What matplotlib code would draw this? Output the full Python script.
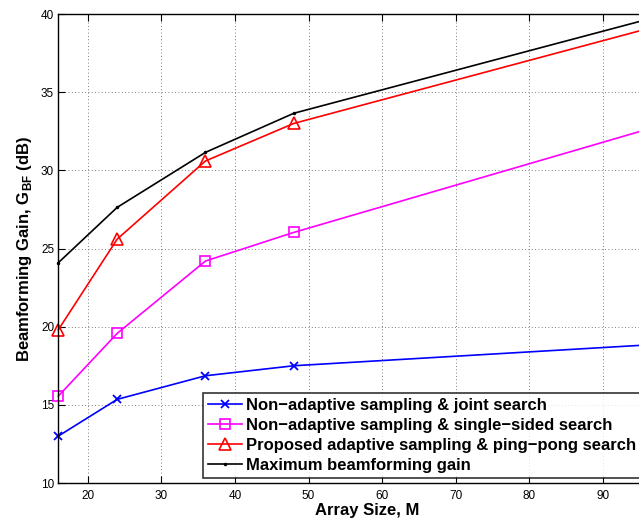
import matplotlib
matplotlib.use("Agg")
import matplotlib.pyplot as plt

plt.rcParams['font.family'] = ['Liberation Sans', 'DejaVu Sans']
plt.rcParams['mathtext.fontset'] = 'custom'
plt.rcParams['mathtext.rm'] = 'Liberation Sans'
plt.rcParams['mathtext.bf'] = 'Liberation Sans:bold'

M = [16, 24, 36, 48, 96]
joint = [13.0, 15.35, 16.86, 17.5, 18.83]
single = [15.56, 19.57, 24.2, 26.03, 32.62]
pingpong = [19.8, 25.6, 30.6, 33.0, 39.05]
maximum = [24.09, 27.63, 31.15, 33.65, 39.65]

labels = ["Non\u2212adaptive sampling & joint search",
          "Non\u2212adaptive sampling & single\u2212sided search",
          "Proposed adaptive sampling & ping\u2212pong search",
          "Maximum beamforming gain"]
xticks = [20, 30, 40, 50, 60, 70, 80, 90]
yticks = [10, 15, 20, 25, 30, 35, 40]

W, H = 639, 519
fig = plt.figure(figsize=(W/100, H/100), dpi=100)
left, right, top, bottom = 58.3, 676.5, 14, 483
ax = fig.add_axes([left/W, 1 - bottom/H, (right-left)/W, (bottom-top)/H])

lw = 1.2
l1, = ax.plot(M, joint, color='#0000ff', marker='x', markersize=6, mew=1.3, lw=lw, clip_on=False)
l2, = ax.plot(M, single, color='#ff00ff', marker='s', markersize=7, mfc='none', mew=1.2, lw=lw, clip_on=False)
l3, = ax.plot(M, pingpong, color='#ff0000', marker='^', markersize=8.5, mfc='none', mew=1.2, lw=lw, clip_on=False)
l4, = ax.plot(M, maximum, color='black', marker='.', markersize=3, lw=lw, clip_on=False)

ax.set_xlim(16, 100)
ax.set_ylim(10, 40)
ax.set_xticks(xticks)
ax.set_yticks(yticks)
ax.tick_params(direction='in', length=5, width=0.8, top=True, right=True,
               labelsize=8.5, colors='black')
ax.tick_params(axis='x', pad=5)
ax.tick_params(axis='y', pad=3)
ax.grid(True, linestyle=(0, (1, 3)), color='#555555', linewidth=0.6)
for s in ax.spines.values():
    s.set_linewidth(1.0)

ax.set_xlabel("Array Size, M", fontsize=12, fontweight='bold', labelpad=1)
ax.set_ylabel(r"Beamforming Gain, G$_{\mathbf{BF}}$ (dB)", fontsize=12, fontweight='bold', labelpad=5)

leg = fig.legend([l1, l2, l3, l4], labels, loc='lower left',
                 bbox_to_anchor=(202.7/W, 1 - 478/H), borderaxespad=0,
                 prop={'size': 12, 'weight': 'bold'}, frameon=True, fancybox=False,
                 handlelength=2.05, handletextpad=0.25, labelspacing=0.3,
                 borderpad=0.3)
leg.get_frame().set_edgecolor('black')
leg.get_frame().set_linewidth(1.2)

fig.savefig("out.png", dpi=100)
